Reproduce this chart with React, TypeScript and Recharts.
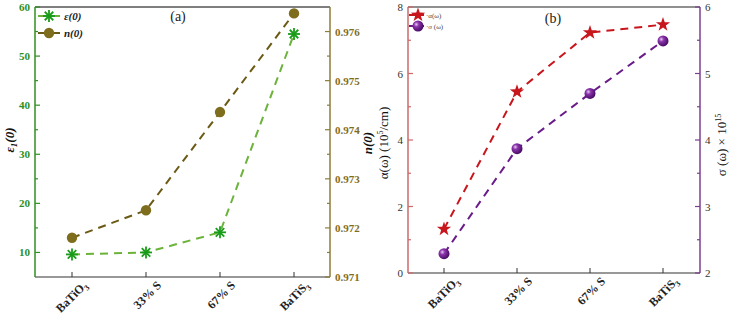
import React from "react";
import { LineChart, Line, XAxis, YAxis, ReferenceLine } from "recharts";

const categories = ["BaTiO3", "33% S", "67% S", "BaTiS3"];
const eps0 = [9.6, 10.0, 14.1, 54.5];
const n0 = [0.9718, 0.97236, 0.97436, 0.97637];
const alphaW = [1.32, 5.45, 7.23, 7.47];
const sigmaW = [2.29, 3.87, 4.7, 5.49];

const epsTicks = [10, 15, 20, 25, 30, 35, 40, 45, 50, 55, 60];
const nTicks = [0.971, 0.9715, 0.972, 0.9725, 0.973, 0.9735, 0.974, 0.9745, 0.975, 0.9755, 0.976];
const alphaTicks = [0, 1, 2, 3, 4, 5, 6, 7, 8];
const sigmaTicks = [2, 2.5, 3, 3.5, 4, 4.5, 5, 5.5, 6];

const dataA = categories.map((c, i) => ({ cat: c, eps: eps0[i], n: n0[i] }));
const dataB = categories.map((c, i) => ({ cat: c, alpha: alphaW[i], sigma: sigmaW[i] }));

const SERIF = "Liberation Serif, Times New Roman, serif";

const GREEN_AXIS = "#2f8f22";
const GREEN_LINE = "#6bb33a";
const GREEN_MARK = "#1a9c1a";
const OLIVE_AXIS = "#8c7d3a";
const OLIVE_LINE = "#6b5a14";
const OLIVE_MARK = "#7f6d1e";
const RED = "#c8161d";
const RED_AXIS = "#cc6a6a";
const PURPLE = "#6a1b8a";
const PURPLE_AXIS = "#7d3f92";

// markers
function asterisk(cx: number, cy: number, key?: string) {
  const r = 6;
  const lines = [0, 45, 90, 135].map((a) => {
    const rad = (a * Math.PI) / 180;
    const dx = Math.cos(rad) * r;
    const dy = Math.sin(rad) * r;
    return <line key={a} x1={cx - dx} y1={cy - dy} x2={cx + dx} y2={cy + dy} stroke={GREEN_MARK} strokeWidth={1.8} />;
  });
  return <g key={key}>{lines}</g>;
}

function star(cx: number, cy: number, key?: string) {
  const pts: string[] = [];
  for (let i = 0; i < 10; i++) {
    const r = i % 2 === 0 ? 7.5 : 3;
    const a = -Math.PI / 2 + (i * Math.PI) / 5;
    pts.push(`${cx + Math.cos(a) * r},${cy + Math.sin(a) * r}`);
  }
  return <polygon key={key} points={pts.join(" ")} fill={RED} />;
}

function olive(cx: number, cy: number, key?: string) {
  return <circle key={key} cx={cx} cy={cy} r={5.2} fill={OLIVE_MARK} />;
}

function sphere(cx: number, cy: number, key?: string, grad = "sphereGrad") {
  return <circle key={key} cx={cx} cy={cy} r={5.5} fill={`url(#${grad})`} />;
}

// ticks
const parts: Record<string, [string, string]> = {
  BaTiO3: ["BaTiO", "3"],
  BaTiS3: ["BaTiS", "3"],
};

function XTick(props: any) {
  const { x, y, payload } = props;
  const p = parts[payload.value];
  return (
    <g>
      <line x1={x} x2={x} y1={y} y2={y - 5} stroke="#333" strokeWidth={1} />
      <text
        transform={`translate(${x + 16},${y + 9}) rotate(-45)`}
        textAnchor="end"
        style={{ fontFamily: SERIF, fontWeight: "bold", fontSize: 12 }}
        fill="#222"
      >
        {p ? (
          <>
            {p[0]}
            <tspan fontSize={8} dy={3}>{p[1]}</tspan>
          </>
        ) : (
          payload.value
        )}
      </text>
    </g>
  );
}

function makeYTick(side: "left" | "right", color: string, labelColor: string, isMajor: (v: number) => boolean, fmt: (v: number) => string, bold: boolean) {
  return (props: any) => {
    const { x, y, payload } = props;
    const v = payload.value as number;
    const major = isMajor(v);
    const len = major ? 5 : 3;
    const dir = side === "left" ? 1 : -1;
    return (
      <g>
        <line x1={x} x2={x + dir * len} y1={y} y2={y} stroke={color} strokeWidth={1.2} />
        {major && (
          <text
            x={side === "left" ? x - 5 : x + 5}
            y={y + 4}
            textAnchor={side === "left" ? "end" : "start"}
            style={{ fontFamily: SERIF, fontWeight: bold ? "bold" : "normal", fontSize: 11 }}
            fill={labelColor}
          >
            {fmt(v)}
          </text>
        )}
      </g>
    );
  };
}

const near = (a: number, b: number) => Math.abs(a - b) < 1e-6;

const EpsTick = makeYTick("left", GREEN_AXIS, GREEN_AXIS, (v) => v % 10 === 0, (v) => String(v), true);
const NTick = makeYTick("right", OLIVE_AXIS, OLIVE_MARK, (v) => near(v * 1000, Math.round(v * 1000)), (v) => v.toFixed(3), true);
const AlphaTick = makeYTick("left", RED_AXIS, "#333", (v) => v % 2 === 0, (v) => String(v), false);
const SigmaTick = makeYTick("right", PURPLE_AXIS, "#333", (v) => Number.isInteger(v), (v) => String(v), false);

const titleStyle = { fontFamily: SERIF, fontSize: 13 };

export default function App() {
  return (
    <div style={{ position: "relative", width: 729, height: 317, background: "#fff", fontFamily: SERIF, overflow: "hidden" }}>
      <style>{"body{margin:0;overflow:hidden}"}</style>
      <div style={{ position: "absolute", left: 0, top: 0 }}>
        <LineChart width={360} height={317} data={dataA} margin={{ top: 7, right: 0, left: 10, bottom: 0 }}>
          <XAxis
            dataKey="cat"
            height={40}
            padding={{ left: 37, right: 36 }}
            tickLine={false}
            tickSize={0}
            tickMargin={0}
            interval={0}
            tick={<XTick />}
            axisLine={{ stroke: "#333", strokeWidth: 1.2 }}
          />
          <YAxis
            yAxisId="left"
            width={25}
            domain={[5, 60]}
            ticks={epsTicks}
            interval={0}
            tickLine={false}
            tickSize={0}
            tickMargin={0}
            tick={<EpsTick />}
            axisLine={{ stroke: GREEN_AXIS, strokeWidth: 1.5 }}
          />
          <YAxis
            yAxisId="right"
            orientation="right"
            width={30}
            domain={[0.971, 0.9765]}
            ticks={nTicks}
            interval={0}
            tickLine={false}
            tickSize={0}
            tickMargin={0}
            tick={<NTick />}
            axisLine={{ stroke: OLIVE_AXIS, strokeWidth: 1.5 }}
          />
          <ReferenceLine yAxisId="left" y={60} stroke="#000" strokeWidth={1.2} />
          <Line
            yAxisId="left"
            dataKey="eps"
            stroke={GREEN_LINE}
            strokeWidth={2}
            strokeDasharray="8 6"
            isAnimationActive={false}
            dot={(p: any) => asterisk(p.cx, p.cy, `e${p.index}`)}
            activeDot={false}
          />
          <Line
            yAxisId="right"
            dataKey="n"
            stroke={OLIVE_LINE}
            strokeWidth={2}
            strokeDasharray="8 6"
            isAnimationActive={false}
            dot={(p: any) => olive(p.cx, p.cy, `n${p.index}`)}
            activeDot={false}
          />
        </LineChart>
      </div>
      <div style={{ position: "absolute", left: 360, top: 0 }}>
        <LineChart width={369} height={317} data={dataB} margin={{ top: 7, right: 0, left: 20, bottom: 0 }}>
          <defs>
            <radialGradient id="sphereGrad" cx="35%" cy="35%" r="65%">
              <stop offset="0%" stopColor="#e9c8f2" />
              <stop offset="35%" stopColor="#8a34ab" />
              <stop offset="100%" stopColor="#4a0d66" />
            </radialGradient>
          </defs>
          <XAxis
            dataKey="cat"
            height={44}
            padding={{ left: 36, right: 37 }}
            tickLine={false}
            tickSize={0}
            tickMargin={0}
            interval={0}
            tick={<XTick />}
            axisLine={{ stroke: "#333", strokeWidth: 1.2 }}
          />
          <YAxis
            yAxisId="left"
            width={28}
            domain={[0, 8]}
            ticks={alphaTicks}
            interval={0}
            tickLine={false}
            tickSize={0}
            tickMargin={0}
            tick={<AlphaTick />}
            axisLine={{ stroke: RED_AXIS, strokeWidth: 1.5 }}
          />
          <YAxis
            yAxisId="right"
            orientation="right"
            width={29}
            domain={[2, 6]}
            ticks={sigmaTicks}
            interval={0}
            tickLine={false}
            tickSize={0}
            tickMargin={0}
            tick={<SigmaTick />}
            axisLine={{ stroke: PURPLE_AXIS, strokeWidth: 1.5 }}
          />
          <ReferenceLine yAxisId="left" y={8} stroke="#222" strokeWidth={1.2} />
          <Line
            yAxisId="left"
            dataKey="alpha"
            stroke={RED}
            strokeWidth={2}
            strokeDasharray="8 6"
            isAnimationActive={false}
            dot={(p: any) => star(p.cx, p.cy, `a${p.index}`)}
            activeDot={false}
          />
          <Line
            yAxisId="right"
            dataKey="sigma"
            stroke={PURPLE}
            strokeWidth={2}
            strokeDasharray="8 6"
            isAnimationActive={false}
            dot={(p: any) => sphere(p.cx, p.cy, `s${p.index}`)}
            activeDot={false}
          />
        </LineChart>
      </div>
      <svg width={729} height={317} style={{ position: "absolute", left: 0, top: 0, pointerEvents: "none" }}>
        <defs>
          <radialGradient id="sphereGrad2" cx="35%" cy="35%" r="65%">
            <stop offset="0%" stopColor="#e9c8f2" />
            <stop offset="35%" stopColor="#8a34ab" />
            <stop offset="100%" stopColor="#4a0d66" />
          </radialGradient>
        </defs>
        {/* panel labels */}
        <text x={178} y={21} textAnchor="middle" style={{ ...titleStyle, fontSize: 14 }} fill="#222">(a)</text>
        <text x={553} y={23} textAnchor="middle" style={{ ...titleStyle, fontSize: 14 }} fill="#222">(b)</text>

        {/* axis titles */}
        <text transform="translate(14,140) rotate(-90)" textAnchor="middle" style={{ ...titleStyle, fontWeight: "bold", fontStyle: "italic" }} fill="#111">
          ε<tspan fontSize={9} dy={3}>1</tspan><tspan dy={-3}>(0)</tspan>
        </text>
        <text transform="translate(372,143) rotate(-90)" textAnchor="middle" style={{ ...titleStyle, fontWeight: "bold", fontStyle: "italic" }} fill="#111">
          n(0)
        </text>
        <text transform="translate(388,143) rotate(-90)" textAnchor="middle" style={titleStyle} fill="#111">
          α(ω) (10<tspan fontSize={8} dy={-5}>5</tspan><tspan dy={5}>/cm)</tspan>
        </text>
        <text transform="translate(726,145) rotate(-90)" textAnchor="middle" style={titleStyle} fill="#111">
          σ (ω) × 10<tspan fontSize={8} dy={-5}>15</tspan>
        </text>

        {/* legend (a) */}
        <line x1={38} x2={60} y1={16} y2={16} stroke={GREEN_LINE} strokeWidth={2} />
        {asterisk(49, 16)}
        <text x={64} y={20} style={{ fontFamily: SERIF, fontWeight: "bold", fontStyle: "italic", fontSize: 11 }} fill="#222">ε(0)</text>
        <line x1={38} x2={60} y1={33} y2={33} stroke={OLIVE_LINE} strokeWidth={2} />
        {olive(49, 33)}
        <text x={64} y={37} style={{ fontFamily: SERIF, fontWeight: "bold", fontStyle: "italic", fontSize: 11 }} fill="#222">n(0)</text>

        {/* legend (b) */}
        <line x1={409} x2={424} y1={15} y2={15} stroke={RED} strokeWidth={2} />
        {star(418, 15)}
        <text x={426} y={18} style={{ fontFamily: SERIF, fontSize: 7 }} fill="#444">·α(ω)</text>
        <line x1={409} x2={424} y1={26} y2={26} stroke={PURPLE} strokeWidth={2} />
        {sphere(418, 26, undefined, "sphereGrad2")}
        <text x={426} y={29} style={{ fontFamily: SERIF, fontSize: 7 }} fill="#444">·σ (ω)</text>
      </svg>
    </div>
  );
}
